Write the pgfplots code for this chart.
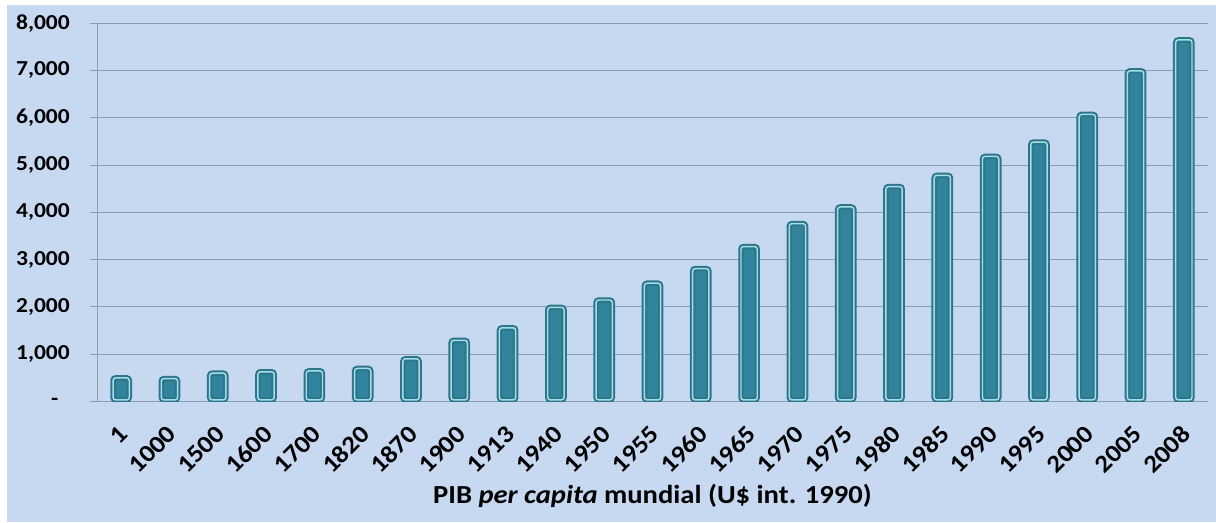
\documentclass[border=0pt]{standalone}
\usepackage{pgfplots}
\pgfplotsset{compat=1.18}
\usepackage{fontspec}
\setmainfont{Carlito}[FakeStretch=1.1]
\definecolor{bg}{HTML}{C6D9F1}
\definecolor{barfill}{HTML}{31849B}
\definecolor{bardark}{HTML}{2B7689}
\definecolor{barlight}{HTML}{A9DCEB}
\definecolor{gridc}{HTML}{8A9DB5}
\begin{document}
\begin{tikzpicture}
\fill[white] (0,0) rectangle (912pt,391.5pt);
\fill[bg] (5.25pt,0) rectangle (912pt,387.75pt);
\begin{axis}[
  at={(72.75pt,90.375pt)}, anchor=south west,
  scale only axis, width=833.25pt, height=283.8pt,
  xmin=-0.5, xmax=22.5, ymin=0, ymax=8000,
  axis x line*=bottom, axis y line*=left,
  axis line style={-, draw=gridc, line width=0.75pt},
  ytick={0,1000,...,8000},
  yticklabels={{\makebox[14pt][l]{-}},{1,000},{2,000},{3,000},{4,000},{5,000},{6,000},{7,000},{8,000}},
  ymajorgrids, grid style={draw=gridc, line width=0.75pt},
  ytick style={draw=gridc, line width=0.75pt},
  tick align=outside, major tick length=5.25pt,
  xtick={0,...,22},
  xticklabels={1,1000,1500,1600,1700,1820,1870,1900,1913,1940,1950,1955,1960,1965,1970,1975,1980,1985,1990,1995,2000,2005,2008},
  xtick style={draw=none},
  yticklabel style={font=\bfseries\fontsize{16}{16}\selectfont, text=black, inner sep=0pt, xshift=-15pt},
  xticklabel style={font=\bfseries\fontsize{18.5}{18.5}\selectfont, text=black, yshift=-16pt, xshift=2pt, rotate=45, anchor=east, inner sep=0pt},
  xlabel={PIB \textit{per capita} mundial (U\$ int. 1990)},
  xlabel style={at={(axis description cs:0.5,-0.25)}, anchor=center, font=\bfseries\fontsize{19.5}{20}\selectfont, text=black},
  ybar, bar width=12.2pt,
]
\addplot[yshift=1.16pt, fill=barfill, draw=bardark, line width=1.5pt, double=barlight, double distance=1.1pt, rounded corners=2pt]
coordinates {(0,467) (1,453) (2,566) (3,596) (4,615) (5,666) (6,870) (7,1262) (8,1526) (9,1958) (10,2113) (11,2468) (12,2777) (13,3244) (14,3729) (15,4080) (16,4512) (17,4749) (18,5150) (19,5453) (20,6038) (21,6958) (22,7614)};
\end{axis}
\pgfresetboundingbox
\useasboundingbox (0,0) rectangle (912pt,391.5pt);
\end{tikzpicture}
\end{document}
